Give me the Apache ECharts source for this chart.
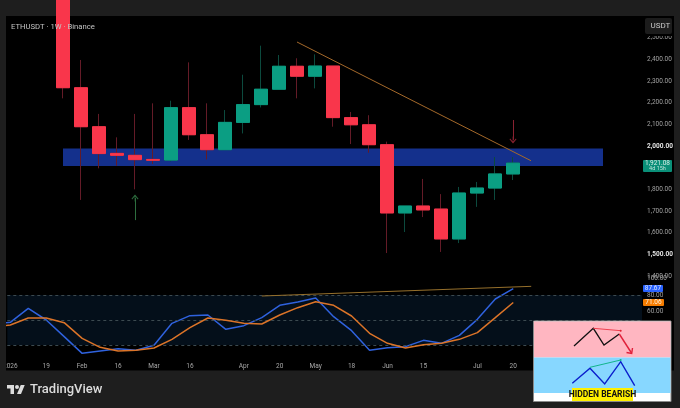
<!DOCTYPE html>
<html>
<head>
<meta charset="utf-8">
<title>ETHUSDT</title>
<script src="https://cdn.jsdelivr.net/npm/echarts@6/dist/echarts.min.js"></script>
<style>
html,body{margin:0;padding:0;background:#1e1e1e;}
#main{width:680px;height:408px;}
</style>
</head>
<body>
<div id="main"></div>
<script>
/*weekly candles, first one sits on slot 3*/
var firstSlot = 3;
var opens  = [2750,2269,2089,1966,1957,1938,1935,2177,2052,1983,2109,2191,2262,2368,2322,2369,2131,2098,2006,1691,1723,1709,1571,1783,1806,1871];
var closes = [2269,2089,1965,1957,1937,1934,2177,2052,1983,2109,2191,2262,2368,2322,2369,2131,2098,2006,1691,1723,1705,1571,1783,1806,1871,1921];
var lows   = [2220,1751,1897,1909,1800,1917,1929,2028,1938,1983,2058,2178,2262,2220,2266,2089,2009,1969,1506,1603,1672,1511,1552,1719,1751,1843];
var highs  = [2800,2397,2148,2040,2148,2197,2209,2386,2197,2166,2329,2463,2420,2405,2423,2369,2157,2142,2020,1723,1848,1778,1811,1834,1949,1949];

/*oscillator, first value sits on slot -1*/
var oscBlue   = [45,47.2,64,50,30,10,12.8,15.6,13.6,19.6,46,55.2,56,38.8,43.2,52.8,67.6,71.6,76.4,54,37.2,13.6,16.8,18,25.6,22,31.6,50.8,75.2,87.67];
var oscOrange = [42,44,52.4,52.4,46.8,28,17.2,12.8,13.6,16.4,26.8,40.8,52.4,49.6,46,45.2,56,64.8,72,67.6,54.8,34,22,16.4,20.4,22,26.8,34.8,52.8,71.06];

var timeSlots  = [0,2,4,6,8,10,13,15,17,19,21,23,26,28];
var timeLabels = ['2026','19','Feb','16','Mar','16','Apr','20','May','18','Jun','15','Jul','20'];
var oscTicks   = [60,80,100];
var brightPrices = [2000,1500];

var zoneTop = 1988, zoneBottom = 1908;
var lastPrice = '1,921.08', lastBlue = '87.67', lastOrange = '71.06';

var UP = '#0b9e83', DOWN = '#f9364b', UP_WICK = '#0c4a3e', DOWN_WICK = '#641b27';
var AXIS_FONT = 'Roboto';

function slotData(useWick){
  var out = [];
  for(var i=0;i<opens.length;i++){
    out.push([
      i+firstSlot, opens[i], closes[i],
      useWick ? lows[i] : Math.min(opens[i],closes[i]),
      useWick ? highs[i] : Math.max(opens[i],closes[i])
    ]);
  }
  return out;
}
function oscData(values){
  return values.map(function(v,i){ return [i-1,v]; });
}
function fmtPrice(v){
  return String(v).replace(/(\d)(\d{3})$/,'$1,$2')+'.00';
}
var arrowHead = 'path://M5,0 L10,6 L9,7 L5.5,2.8 L5.5,10 L4.5,10 L4.5,2.8 L1,7 L0,6 Z';

var option = {
  backgroundColor:'#1e1e1e',
  animation:false,
  textStyle:{fontFamily:AXIS_FONT},
  grid:[
    {left:6,width:636,top:16,height:260},
    {left:6,width:636,top:270,height:90}
  ],
  xAxis:[
    {gridIndex:0,type:'value',min:-1/6,max:35+1/6,show:false,splitLine:{show:false}},
    {gridIndex:1,type:'value',min:-1/6,max:35+1/6,
      axisLine:{show:false},axisTick:{show:false},splitLine:{show:false},
      axisLabel:{
        customValues:timeSlots,
        margin:3,fontSize:6.5,color:'#a8a8a8',hideOverlap:false,
        formatter:function(v){ return timeLabels[timeSlots.indexOf(v)]; }
      }
    }
  ],
  yAxis:[
    {gridIndex:0,type:'value',position:'right',min:1400,max:2600,interval:100,
      axisLine:{show:false},axisTick:{show:false},splitLine:{show:false},
      axisLabel:{
        margin:5,fontSize:6.5,color:'#a0a0a0',align:'left',showMaxLabel:false,
        formatter:function(v){
          if(v>2500) return '';
          return brightPrices.indexOf(v)>-1 ? '{b|'+fmtPrice(v)+'}' : fmtPrice(v);
        },
        rich:{b:{fontSize:6.5,fontWeight:'bold',color:'#e4e4e4'}}
      }
    },
    {gridIndex:1,type:'value',position:'right',min:2,max:110,
      axisLine:{show:false},axisTick:{show:false},splitLine:{show:false},
      axisLabel:{
        customValues:oscTicks,margin:5,fontSize:6.5,color:'#a0a0a0',align:'left',
        formatter:function(v){ return v.toFixed(2); }
      }
    }
  ],
  series:[
    {
      name:'wick',type:'candlestick',xAxisIndex:0,yAxisIndex:0,z:2,
      barWidth:13,encode:{x:0,y:[1,2,3,4]},data:slotData(true),
      itemStyle:{color:UP_WICK,color0:DOWN_WICK,borderColor:UP_WICK,borderColor0:DOWN_WICK,borderWidth:1},
      markArea:{silent:true,itemStyle:{color:'#14308c',opacity:1},
        data:[[{xAxis:3,yAxis:zoneTop},{xAxis:33,yAxis:zoneBottom}]]},
      markLine:{silent:true,symbol:'none',label:{show:false},
        data:[
          [{coord:[16,2480],lineStyle:{color:'#a5692a',width:1,type:'solid'}},{coord:[29,1932]}],
          [{coord:[7,1658],symbol:'none',lineStyle:{color:'#2d6e3e',width:1,type:'solid'}},
           {coord:[7,1760],symbol:arrowHead,symbolSize:7,symbolKeepAspect:true}],
          [{coord:[28,2120],symbol:'none',lineStyle:{color:'#8a2231',width:1,type:'solid'}},
           {coord:[28,2028],symbol:arrowHead,symbolSize:7,symbolKeepAspect:true}]
        ]}
    },
    {
      name:'body',type:'candlestick',xAxisIndex:0,yAxisIndex:0,z:3,
      barWidth:13,encode:{x:0,y:[1,2,3,4]},data:slotData(false),
      itemStyle:{color:UP,color0:DOWN,borderColor:UP,borderColor0:DOWN,borderWidth:1}
    },
    {
      name:'K',type:'line',xAxisIndex:1,yAxisIndex:1,z:4,symbol:'none',
      data:oscData(oscBlue),lineStyle:{color:'#2f62de',width:1.5},
      markArea:{silent:true,itemStyle:{color:'#040f1a',opacity:1},
        data:[[{yAxis:80},{yAxis:20}]]},
      markLine:{silent:true,symbol:'none',label:{show:false},
        data:[
          {yAxis:80,lineStyle:{color:'#3c4a50',width:1,type:[3,3]}},
          {yAxis:50,lineStyle:{color:'#3c4a50',width:1,type:[3,3]}},
          {yAxis:20,lineStyle:{color:'#3c4a50',width:1,type:[3,3]}},
          [{coord:[14,78.8],lineStyle:{color:'#96702c',width:1,type:'solid'}},{coord:[29,90.4]}]
        ]}
    },
    {
      name:'D',type:'line',xAxisIndex:1,yAxisIndex:1,z:5,symbol:'none',
      data:oscData(oscOrange),lineStyle:{color:'#dc7428',width:1.5}
    }
  ],
  graphic:[
    /*panel under everything*/
    {type:'rect',z:-10,silent:true,shape:{x:6,y:16,width:668,height:354.5},style:{fill:'#000'}},
    /*frame and price axis header over the marks*/
    {type:'rect',z:20,silent:true,shape:{x:0,y:0,width:6,height:408},style:{fill:'#1e1e1e'}},
    {type:'rect',z:20,silent:true,shape:{x:642,y:16,width:32,height:20},style:{fill:'#000'}},
    {type:'rect',z:21,silent:true,shape:{x:645,y:18,width:27,height:16,r:2},style:{fill:'#1c1c1c'}},
    {type:'text',z:22,silent:true,x:650.5,y:26,style:{text:'USDT',font:'8px Roboto',fill:'#c8c8c8',verticalAlign:'middle'}},
    {type:'text',z:22,silent:true,x:11,y:27,style:{text:'ETHUSDT · 1W · Binance',font:'7.7px Roboto',fill:'#c4c4c4',verticalAlign:'middle'}},

    /*last value tags*/
    {type:'rect',z:21,silent:true,shape:{x:643,y:160,width:29,height:12,r:1},style:{fill:'#0a8f78'}},
    {type:'text',z:22,silent:true,x:657.5,y:163.5,style:{text:lastPrice,font:'6.5px Roboto',fill:'#d8f0ea',align:'center',verticalAlign:'middle'}},
    {type:'text',z:22,silent:true,x:657.5,y:169,style:{text:'4d 15h',font:'5.5px Roboto',fill:'#bfe4db',align:'center',verticalAlign:'middle'}},
    {type:'rect',z:21,silent:true,shape:{x:643,y:285,width:20,height:7,r:1},style:{fill:'#2962ff'}},
    {type:'text',z:22,silent:true,x:653,y:288.6,style:{text:lastBlue,font:'6.5px Roboto',fill:'#dfe8ff',align:'center',verticalAlign:'middle'}},
    {type:'rect',z:21,silent:true,shape:{x:643,y:299,width:21,height:7,r:1},style:{fill:'#f57c00'}},
    {type:'text',z:22,silent:true,x:653.5,y:302.6,style:{text:lastOrange,font:'6.5px Roboto',fill:'#fff0dc',align:'center',verticalAlign:'middle'}},

    /*TradingView logo*/
    {type:'polygon',z:22,silent:true,x:7,y:383,scaleX:0.5,scaleY:0.5,shape:{points:[[14,22],[7,22],[7,11],[0,11],[0,4],[14,4]]},style:{fill:'#dcdcdc'}},
    {type:'polygon',z:22,silent:true,x:7,y:383,scaleX:0.5,scaleY:0.5,shape:{points:[[28,22],[20,22],[27.5,4],[35.5,4]]},style:{fill:'#dcdcdc'}},
    {type:'circle',z:22,silent:true,x:7,y:383,scaleX:0.5,scaleY:0.5,shape:{cx:20,cy:8,r:4},style:{fill:'#dcdcdc'}},
    {type:'text',z:22,silent:true,x:30,y:390,style:{text:'TradingView',font:'500 13px Roboto',fill:'#dcdcdc',verticalAlign:'middle'}},

    /*hidden bearish inset*/
    {type:'rect',z:30,silent:true,shape:{x:533.5,y:321,width:137.5,height:80.5},style:{fill:'#fff',stroke:'#8a8a8a',lineWidth:1}},
    {type:'rect',z:31,silent:true,shape:{x:534,y:321.5,width:136.5,height:36},style:{fill:'#ffb6c1'}},
    {type:'rect',z:31,silent:true,shape:{x:534,y:357.5,width:136.5,height:35.5},style:{fill:'#87d7ff'}},
    {type:'polyline',z:32,silent:true,shape:{points:[[574,346],[593.3,328.3],[604,345],[619.3,334]]},style:{stroke:'#111',fill:null,lineWidth:1.3}},
    {type:'line',z:32,silent:true,shape:{x1:593.3,y1:328.3,x2:620.7,y2:330.7},style:{stroke:'#f04050',lineWidth:1}},
    {type:'circle',z:32,silent:true,shape:{cx:620.7,cy:330.7,r:1},style:{fill:'#e02030'}},
    {type:'line',z:32,silent:true,shape:{x1:619.3,y1:334,x2:631.5,y2:353},style:{stroke:'#e0203a',lineWidth:1.4}},
    {type:'polyline',z:32,silent:true,shape:{points:[[626.5,352.5],[631.7,353.5],[632.5,348]]},style:{stroke:'#e0203a',fill:null,lineWidth:1.4}},
    {type:'polyline',z:32,silent:true,shape:{points:[[572.3,383.3],[590,368.3],[604.7,384],[620.7,361.7],[634.7,385.7]]},style:{stroke:'#0a1ecc',fill:null,lineWidth:1.4}},
    {type:'line',z:32,silent:true,shape:{x1:590,y1:367.3,x2:620.7,y2:360},style:{stroke:'#12b58c',lineWidth:1}},
    {type:'circle',z:32,silent:true,shape:{cx:620.7,cy:360,r:1},style:{fill:'#12b58c'}},
    {type:'rect',z:33,silent:true,shape:{x:572,y:388,width:61,height:13},style:{fill:'#fff000'}},
    {type:'text',z:34,silent:true,x:602.5,y:394.6,style:{text:'HIDDEN BEARISH',font:'bold 8.5px "Liberation Sans Narrow", Roboto',fill:'#111',align:'center',verticalAlign:'middle'}}
  ]
};

var myChart = echarts.init(document.getElementById('main'));
myChart.setOption(option);
</script>
</body>
</html>
